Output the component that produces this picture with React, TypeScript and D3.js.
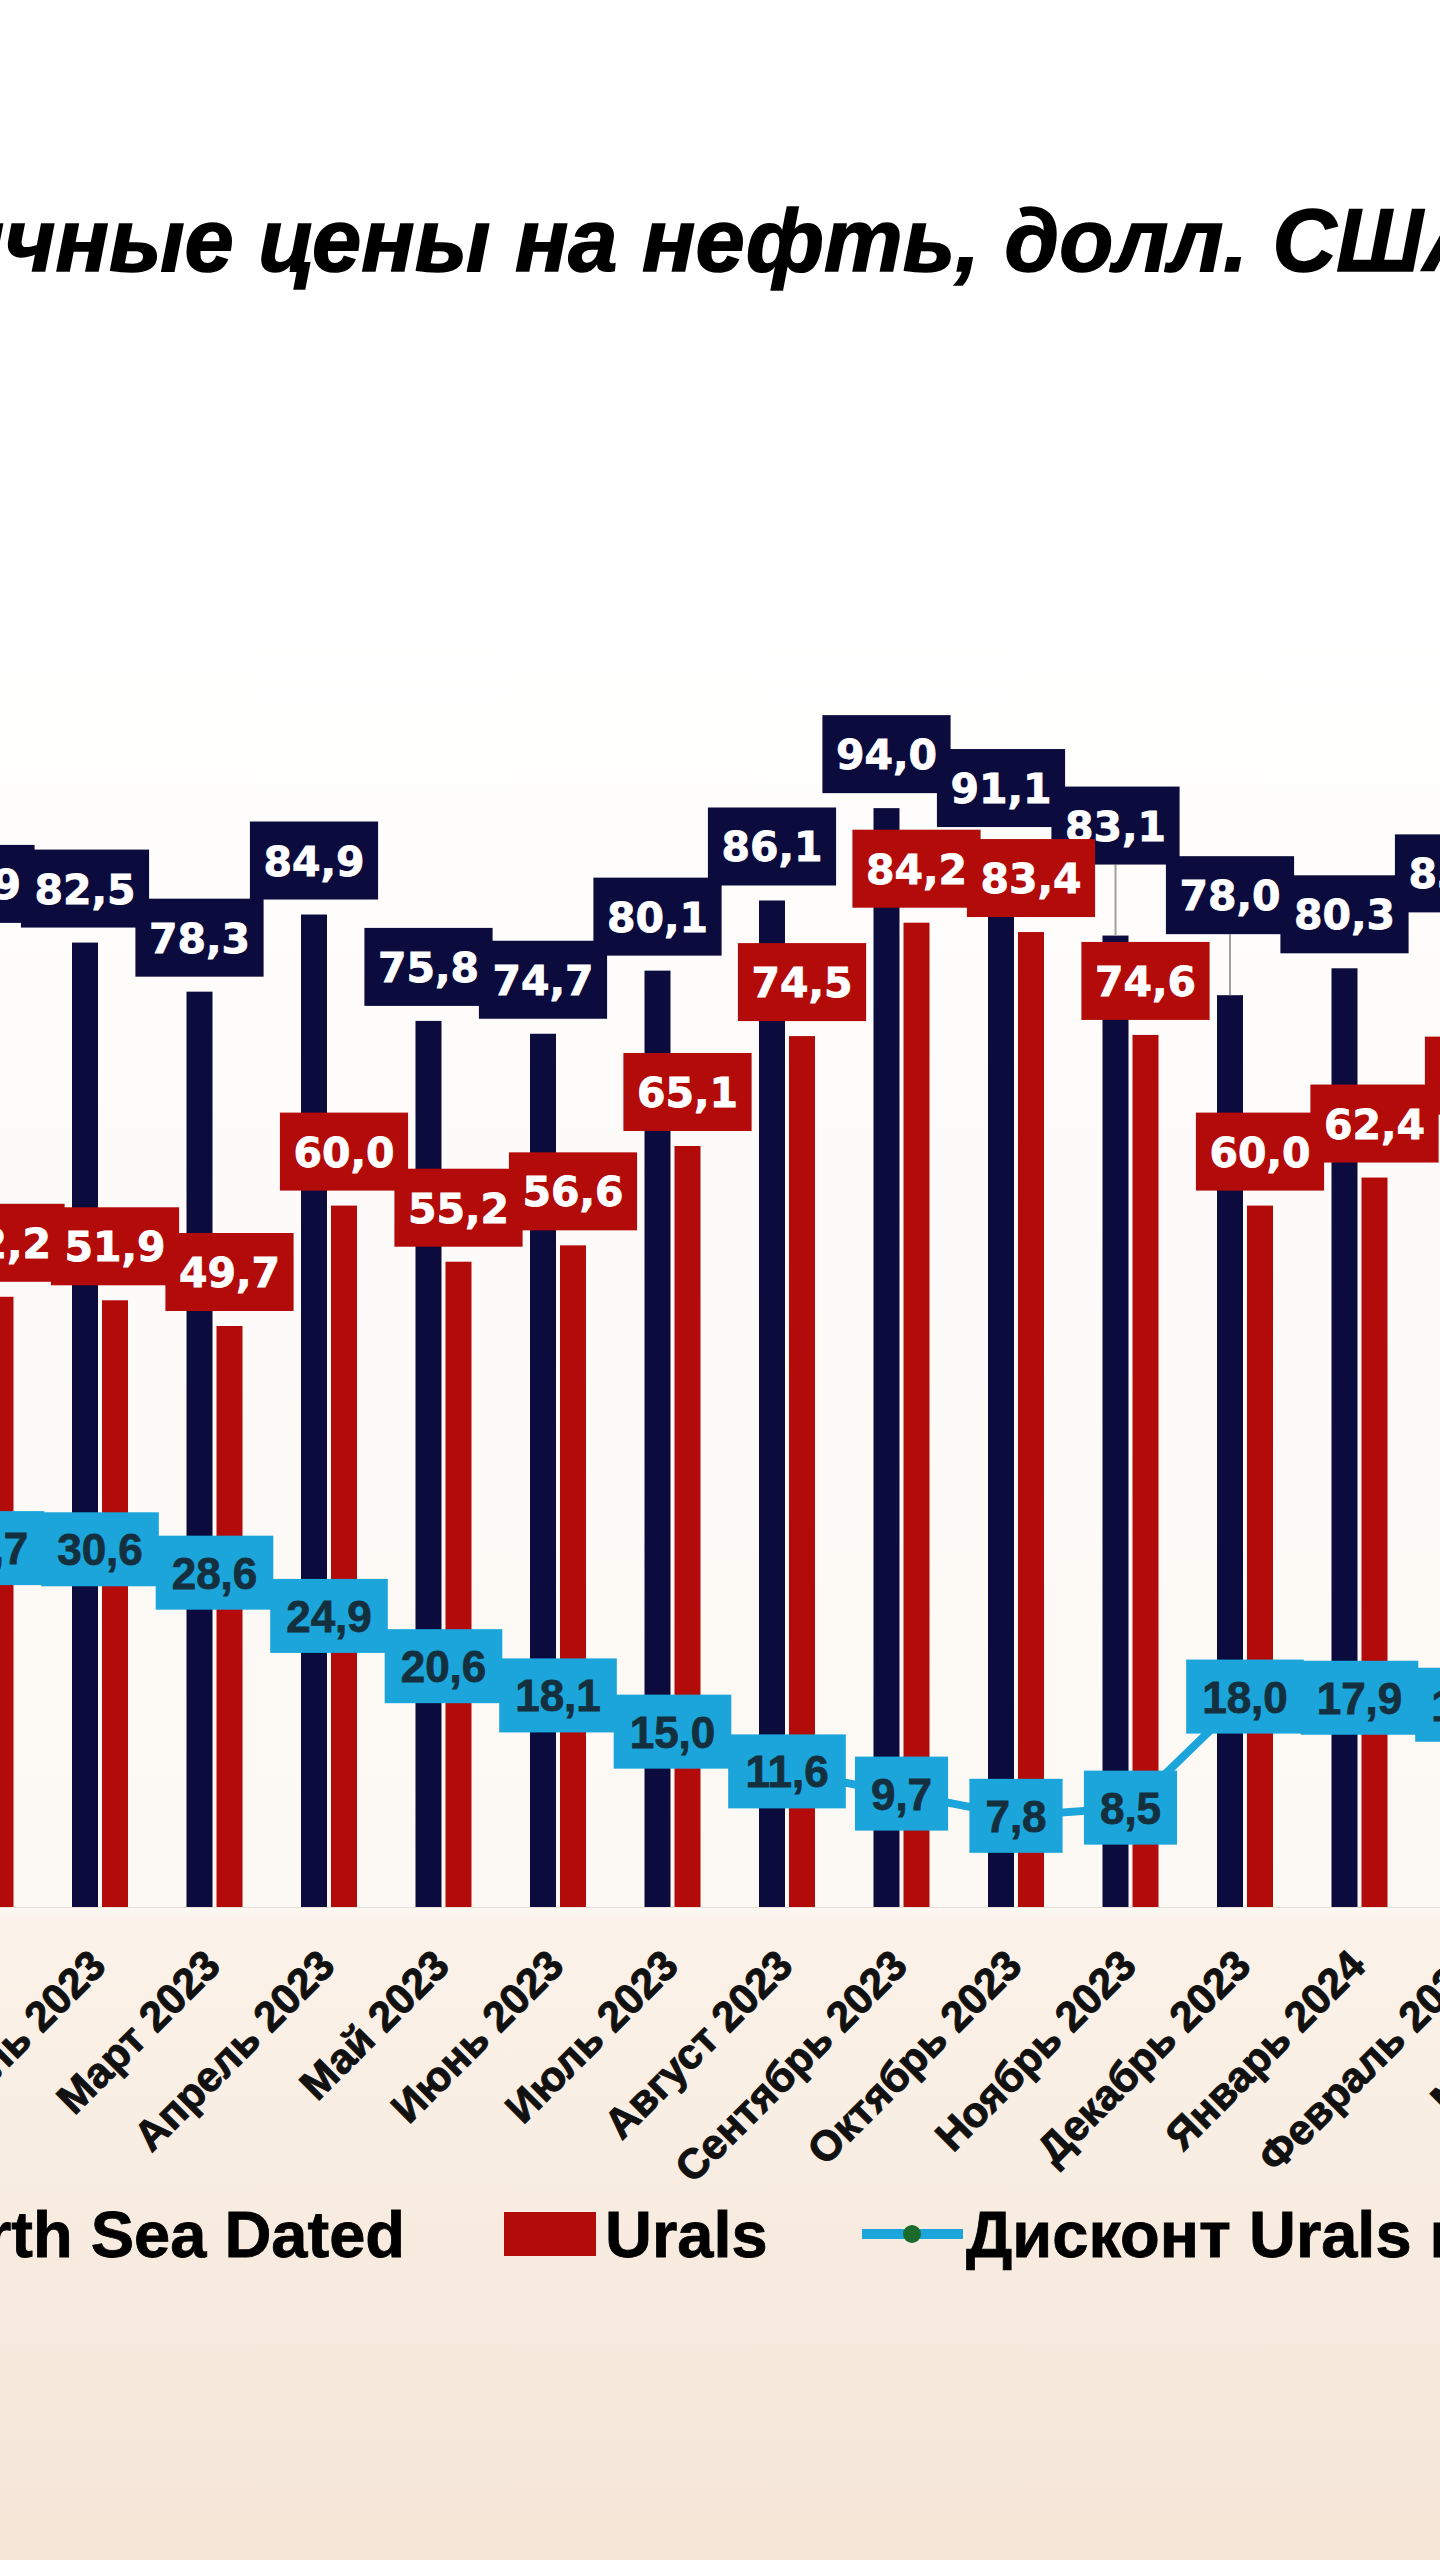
import React, { useLayoutEffect, useRef, useState } from "react";
import * as d3 from "d3";

// ---------- data ----------
const months = [
  "Январь 2023", "Февраль 2023", "Март 2023", "Апрель 2023", "Май 2023", "Июнь 2023",
  "Июль 2023", "Август 2023", "Сентябрь 2023", "Октябрь 2023", "Ноябрь 2023",
  "Декабрь 2023", "Январь 2024", "Февраль 2024", "Март 2024",
];
const northSeaDated: (number | null)[] = [82.9, 82.5, 78.3, 84.9, 75.8, 74.7, 80.1, 86.1, 94.0, 91.1, 83.1, 78.0, 80.3, 83.8, null];
const urals: (number | null)[] = [52.2, 51.9, 49.7, 60.0, 55.2, 56.6, 65.1, 74.5, 84.2, 83.4, 74.6, 60.0, 62.4, 66.5, null];
const discount: (number | null)[] = [30.7, 30.6, 28.6, 24.9, 20.6, 18.1, 15.0, 11.6, 9.7, 7.8, 8.5, 18.0, 17.9, 17.3, null];
const seriesNames = ["North Sea Dated", "Urals", "Дисконт Urals к North Sea Dated"];
const titleText = "Среднемесячные цены на нефть, долл. США";

// ---------- layout / style ----------
const W = 1440;
const H = 2560;
const NAVY = "#0b0b3d";
const RED = "#b30a0a";
const BLUE = "#1ca5db";
const BLUE_TEXT = "#14303e";
const GREEN = "#1d6b2a";
const BASE_Y = 1907;
const STEP = 114.5;
const X0 = -14.5 - STEP / 2;
// manual upward shifts of some North Sea Dated labels (index -> px)
const navyLabelLift: Record<number, number> = { 10: 56, 11: 46 };

const x = d3.scaleBand<string>().domain(months).range([X0, X0 + months.length * STEP]).paddingInner(0).paddingOuter(0);
const sub = d3.scaleBand<string>().domain(["nsd", "urals"]).range([-28, 28]).paddingInner(4 / 30).paddingOuter(0);
const y = d3.scaleLinear().domain([0, 100]).range([BASE_Y, 738]);

const fmt = (v: number) => v.toFixed(1).replace(".", ",");
const wDejaVu = (s: string, fs: number) => [...s].reduce((a, c) => a + (c === "," ? 0.38 : 0.696), 0) * fs;
const wArial = (s: string, fs: number) => [...s].reduce((a, c) => a + (c === "," ? 0.278 : 0.556), 0) * fs;

const BAR_FONT = 41;
const LINE_FONT = 44;
const BOX_H = 78;
const LBOX_H = 74;
const ARIAL = "'Liberation Sans', Arial, Helvetica, sans-serif";
const VERDANA = "'DejaVu Sans', Verdana, sans-serif";

export default function App() {
  const cx = (m: string) => (x(m) as number) + x.bandwidth() / 2;
  const bw = sub.bandwidth();

  // title placement: "ч" of "...месячные" at the left edge, "Ш" ending near x=1423
  const titleRef = useRef<SVGTextElement>(null);
  const [title, setTitle] = useState({ x: 0, fs: 86 });
  useLayoutEffect(() => {
    const el = titleRef.current;
    if (!el) return;
    const i0 = titleText.indexOf("чные");
    const i1 = titleText.indexOf("Ш") + 1;
    const pre = el.getSubStringLength(0, i0);
    const span = el.getSubStringLength(i0, i1 - i0);
    const fs = (86 * 1419) / span;
    setTitle({ x: 4 - (pre * fs) / 86, fs });
  }, []);

  const linePts = months
    .map((m, i) => ({ m, v: discount[i] }))
    .filter((d) => d.v != null) as { m: string; v: number }[];
  const line = d3.line<{ m: string; v: number }>().x((d) => cx(d.m)).y((d) => y(d.v));

  return (
    <div style={{ position: "absolute", left: 0, top: 0, width: W, height: H, overflow: "hidden" }}>
      <svg width={W} height={H} viewBox={`0 0 ${W} ${H}`} style={{ display: "block" }}>
        <defs>
          <linearGradient id="bg" x1="0" y1="0" x2="0" y2="1">
            <stop offset="0" stopColor="#ffffff" />
            <stop offset="0.2" stopColor="#ffffff" />
            <stop offset="0.5" stopColor="#fdfbf9" />
            <stop offset="0.745" stopColor="#fcf8f3" />
            <stop offset="0.75" stopColor="#fbf2e9" />
            <stop offset="1" stopColor="#f4e5d7" />
          </linearGradient>
        </defs>
        <rect x={0} y={0} width={W} height={H} fill="url(#bg)" />

        {/* title */}
        <text
          ref={titleRef}
          x={title.x}
          y={271}
          fontFamily={ARIAL}
          fontWeight="bold"
          fontStyle="italic"
          fontSize={title.fs}
          fill="#000"
          stroke="#000"
          strokeWidth={1.5}
        >
          {titleText}
        </text>

        {/* axis baseline */}
        <line x1={0} x2={W} y1={BASE_Y + 0.5} y2={BASE_Y + 0.5} stroke="#e8dfd6" strokeWidth={1} />

        {/* bars */}
        {months.map((m, i) => (
          <g key={"b" + m}>
            {northSeaDated[i] != null && (
              <rect
                x={cx(m) + (sub("nsd") as number)}
                y={y(northSeaDated[i] as number)}
                width={bw}
                height={BASE_Y - y(northSeaDated[i] as number)}
                fill={NAVY}
              />
            )}
            {urals[i] != null && (
              <rect
                x={cx(m) + (sub("urals") as number)}
                y={y(urals[i] as number)}
                width={bw}
                height={BASE_Y - y(urals[i] as number)}
                fill={RED}
              />
            )}
          </g>
        ))}

        {/* discount line */}
        <path d={line(linePts) || ""} fill="none" stroke={BLUE} strokeWidth={8} strokeLinejoin="round" />

        {/* discount labels */}
        {linePts.map((d) => {
          const t = fmt(d.v);
          const w = wArial(t, LINE_FONT) + 32;
          const px = cx(d.m);
          const py = y(d.v);
          return (
            <g key={"dl" + d.m}>
              <rect x={px - w / 2} y={py - LBOX_H / 2} width={w} height={LBOX_H} fill={BLUE} />
              <text
                x={px}
                y={py + 16}
                textAnchor="middle"
                fontFamily={ARIAL}
                fontWeight="bold"
                fontSize={LINE_FONT}
                fill={BLUE_TEXT}
                stroke={BLUE_TEXT}
                strokeWidth={0.8}
              >
                {t}
              </text>
            </g>
          );
        })}

        {/* North Sea Dated labels */}
        {months.map((m, i) => {
          const v = northSeaDated[i];
          if (v == null) return null;
          const t = fmt(v);
          const w = wDejaVu(t, BAR_FONT) + 27;
          const bx = cx(m) + (sub("nsd") as number) + bw / 2;
          const lift = navyLabelLift[i] || 0;
          const bottom = y(v) - 15 - lift;
          return (
            <g key={"nl" + m}>
              {lift > 0 && (
                <line x1={bx} x2={bx} y1={bottom} y2={y(v)} stroke="#a0a0a0" strokeWidth={2} />
              )}
              <rect x={bx - w / 2} y={bottom - BOX_H} width={w} height={BOX_H} fill={NAVY} />
              <text
                x={bx}
                y={bottom - BOX_H / 2 + 15}
                textAnchor="middle"
                fontFamily={VERDANA}
                fontWeight="bold"
                fontSize={BAR_FONT}
                fill="#ffffff"
                stroke="#ffffff"
                strokeWidth={0.8}
              >
                {t}
              </text>
            </g>
          );
        })}

        {/* Urals labels */}
        {months.map((m, i) => {
          const v = urals[i];
          if (v == null) return null;
          const t = fmt(v);
          const w = wDejaVu(t, BAR_FONT) + 27;
          const bx = cx(m) + (sub("urals") as number) + bw / 2;
          const bottom = y(v) - 15;
          return (
            <g key={"ul" + m}>
              <rect x={bx - w / 2} y={bottom - BOX_H} width={w} height={BOX_H} fill={RED} />
              <text
                x={bx}
                y={bottom - BOX_H / 2 + 15}
                textAnchor="middle"
                fontFamily={VERDANA}
                fontWeight="bold"
                fontSize={BAR_FONT}
                fill="#ffffff"
                stroke="#ffffff"
                strokeWidth={0.8}
              >
                {t}
              </text>
            </g>
          );
        })}

        {/* category labels */}
        {months.map((m) => (
          <text
            key={"xl" + m}
            transform={`translate(${cx(m) + 8},1968) rotate(-45)`}
            textAnchor="end"
            fontFamily={ARIAL}
            fontWeight="bold"
            fontSize={42}
            fill="#111"
            stroke="#111"
            strokeWidth={1}
          >
            {m}
          </text>
        ))}

        {/* legend */}
        <g fontFamily={ARIAL} fontWeight="bold" fontSize={65} fill="#000" stroke="#000" strokeWidth={0.8}>
          <rect x={-195} y={2212} width={92} height={44} fill={NAVY} stroke="none" />
          <text x={405} y={2257} textAnchor="end">{seriesNames[0]}</text>
          <rect x={504} y={2212} width={92} height={44} fill={RED} stroke="none" />
          <text x={605} y={2257}>{seriesNames[1]}</text>
          <line x1={862} x2={963} y1={2234} y2={2234} stroke={BLUE} strokeWidth={10} />
          <circle cx={912} cy={2234} r={9} fill={GREEN} stroke="none" />
          <text x={966} y={2257}>{seriesNames[2]}</text>
        </g>
      </svg>
    </div>
  );
}
